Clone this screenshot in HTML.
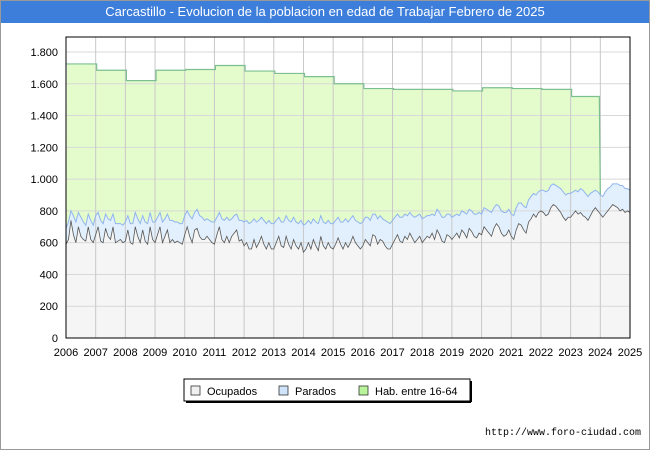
<!DOCTYPE html>
<html><head><meta charset="utf-8"><style>
body{margin:0;background:#fff;}
#wrap{position:relative;width:648px;height:448px;border:1px solid #999;overflow:hidden;font-family:"Liberation Sans",sans-serif;}
#title{position:absolute;left:0;top:0;width:648px;height:22px;background:#3d7edb;color:#fff;font-size:13px;line-height:22px;text-align:center;}
#url{position:absolute;right:8px;top:427px;font-family:"Liberation Mono",monospace;font-size:10px;color:#000;}
</style></head><body>
<div id="wrap">
<div id="title">Carcastillo - Evolucion de la poblacion en edad de Trabajar Febrero de 2025</div>
<svg id="chart" width="648" height="448" style="position:absolute;left:0;top:0"></svg>
<div id="url">http://www.foro-ciudad.com</div>
</div>
<script>
const years=[2006,2007,2008,2009,2010,2011,2012,2013,2014,2015,2016,2017,2018,2019,2020,2021,2022,2023,2024,2025];
const yTicks=[0,200,400,600,800,1000,1200,1400,1600,1800];
const yTickLabels=["0","200","400","600","800","1.000","1.200","1.400","1.600","1.800"];
const habValues=[1725,1685,1620,1685,1690,1715,1680,1665,1645,1600,1570,1565,1565,1555,1575,1570,1565,1520];
const ocupados=[
590,620,740,650,600,700,640,620,610,700,620,600,
650,700,610,600,690,640,620,700,600,610,620,600,
610,680,600,590,700,640,600,680,610,590,700,620,
600,650,700,600,640,680,600,620,600,610,600,590,
650,700,640,600,680,690,640,620,620,640,620,600,
590,650,700,620,600,640,600,640,660,680,610,620,
580,600,560,560,620,570,600,640,590,560,600,560,
560,600,640,580,570,640,590,560,620,580,560,600,
540,560,600,560,620,580,550,640,580,560,600,570,
560,590,630,590,560,600,570,600,640,600,580,560,
580,620,600,580,650,640,590,620,610,580,560,560,
590,620,650,610,600,640,620,660,630,600,620,640,
600,620,640,630,660,620,680,650,610,600,650,640,
620,640,660,630,680,660,630,690,670,640,630,660,
650,700,680,660,640,690,720,700,660,640,650,680,
640,620,680,720,710,680,660,730,750,780,760,790,
800,790,770,780,820,840,830,810,790,760,740,760,
760,780,800,780,790,770,760,740,770,800,820,800,
780,760,780,800,820,840,830,820,800,810,790,800,
790];
const parados=[
100,110,60,120,130,90,120,110,100,80,120,110,
120,90,130,120,90,110,120,80,120,110,100,110,
120,90,120,130,90,110,120,90,120,130,90,110,
130,110,90,130,110,100,140,120,130,120,120,130,
120,100,130,150,110,120,130,140,120,110,120,130,
140,110,90,130,140,120,140,110,110,100,130,120,
150,140,160,170,130,160,140,120,150,160,140,160,
160,140,120,150,160,130,150,170,140,150,160,140,
170,160,140,160,130,150,170,130,150,160,140,150,
160,150,130,140,170,150,160,150,130,140,150,160,
150,140,160,160,130,140,160,150,140,160,170,160,
150,140,130,150,160,140,150,130,140,160,150,140,
150,140,130,140,120,150,130,140,150,160,130,140,
140,130,120,140,120,130,150,120,130,140,150,130,
130,120,130,140,150,130,120,130,140,150,140,130,
140,150,140,130,140,150,160,140,140,130,140,130,
130,140,150,150,140,130,130,140,150,160,160,150,
150,140,130,140,150,160,150,150,140,120,110,120,
120,130,140,140,130,130,140,150,160,150,150,140,
140];
const NS="http://www.w3.org/2000/svg";
const svg=document.getElementById('chart');
const X0=65,X1=629,Y0=337,YT=36;
const xs=v=>X0+(v-2006)/(2025-2006)*(X1-X0);
const ys=v=>Y0-v*(286/1800);
const mx=i=>xs(2006+i/12);
function el(t,a){const e=document.createElementNS(NS,t);for(const k in a)e.setAttribute(k,a[k]);svg.appendChild(e);return e;}
const bg=el('rect',{x:X0,y:YT,width:X1-X0,height:Y0-YT,fill:'#fff'});


// hab area
let hp=`M${xs(2006)},${Y0}`;
habValues.forEach((v,i)=>{hp+=` L${xs(years[i])+1},${ys(i==0?v:habValues[i-1])} L${xs(years[i])+1},${ys(v)}`;});
const tot=ocupados.map((o,i)=>o+parados[i]);
const endI=18*12;
hp+=` L${xs(2024)-1},${ys(habValues[17])} L${xs(2024)},${ys(tot[endI])} L${xs(2024)},${Y0} Z`;
const hab=el('path',{d:hp,fill:'#e4fccc',stroke:'none'});


function areaPath(arr){let d=`M${mx(0)},${Y0}`;arr.forEach((v,i)=>d+=` L${mx(i)},${ys(v)}`);return d+` L${mx(arr.length-1)},${Y0} Z`;}
function linePath(arr){return arr.map((v,i)=>(i?'L':'M')+mx(i)+','+ys(v)).join(' ');}
const pa=el('path',{d:areaPath(tot),fill:'#e2f0fd'});


const oa=el('path',{d:areaPath(ocupados),fill:'#f5f5f5'});


// grid
yTicks.forEach((t,i)=>{
 const g=el('line',{x1:X0,x2:X1,y1:ys(t),y2:ys(t),stroke:'#d8d8d8','stroke-width':1});
 
 
 const l=el('text',{x:X0-8,y:ys(t)+4,'text-anchor':'end','font-size':11,fill:'#000'});
 l.textContent=yTickLabels[i];
 
 
});
years.forEach(yv=>{
 const g=el('line',{x1:xs(yv),x2:xs(yv),y1:YT,y2:Y0,stroke:'#c8c8c8','stroke-width':1});
 
 
 const l=el('text',{x:xs(yv),y:Y0+18,'text-anchor':'middle','font-size':11,fill:'#000'});
 l.textContent=yv;
 
 
});
// hab line
let hl=`M${xs(2006)},${ys(habValues[0])}`;
habValues.forEach((v,i)=>{hl+=` L${xs(years[i])+1},${ys(i==0?v:habValues[i-1])} L${xs(years[i])+1},${ys(v)}`;});
hl+=` L${xs(2024)-1},${ys(habValues[17])} L${xs(2024)},${ys(tot[endI])}`;
const hline=el('path',{d:hl,fill:'none',stroke:'#7cbf90','stroke-width':1.2});


const pl=el('path',{d:linePath(tot),fill:'none',stroke:'#8fb4ef','stroke-width':1});


const ol=el('path',{d:linePath(ocupados),fill:'none',stroke:'#555','stroke-width':0.8});


const fr=el('rect',{x:X0,y:YT,width:X1-X0,height:Y0-YT,fill:'none',stroke:'#000','stroke-width':1});


// legend
const lg=el('rect',{x:183,y:378,width:286,height:22,fill:'#fff',stroke:'#000','stroke-width':1});


el('line',{x1:185,y1:401,x2:470,y2:401,stroke:'#000','stroke-width':2});
el('line',{x1:470,y1:380,x2:470,y2:401,stroke:'#000','stroke-width':2});
const items=[["Ocupados","#f0f0f0",190],["Parados","#cfe3fa",278],["Hab. entre 16-64","#b8f59a",358]];
items.forEach(([n,c,x])=>{
 const s=el('rect',{x:x,y:385,width:9,height:9,fill:c,stroke:'#333','stroke-width':0.8});
 
 
 const t=el('text',{x:x+16,y:394,'font-size':11,fill:'#000'});
 t.textContent=n;
 
 
});
</script>
</body></html>
